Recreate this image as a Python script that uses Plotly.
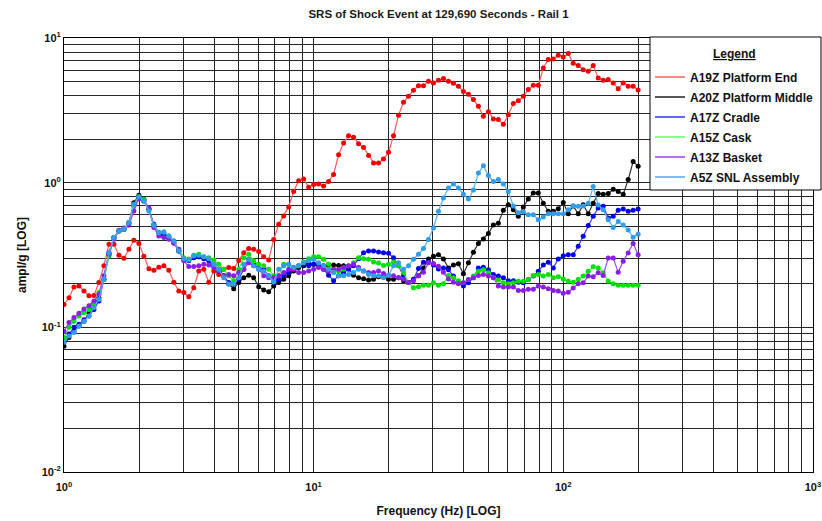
import plotly.graph_objects as go

# 1/50-decade analysis frequencies (Hz)
FREQ_HZ = [
    1.000, 1.047, 1.096, 1.148, 1.202, 1.259, 1.318, 1.380, 1.445, 1.514,
    1.585, 1.660, 1.738, 1.820, 1.905, 1.995, 2.089, 2.188, 2.291, 2.399,
    2.512, 2.630, 2.754, 2.884, 3.020, 3.162, 3.311, 3.467, 3.631, 3.802,
    3.981, 4.169, 4.365, 4.571, 4.786, 5.012, 5.248, 5.495, 5.754, 6.026,
    6.310, 6.607, 6.918, 7.244, 7.586, 7.943, 8.318, 8.710, 9.120, 9.550,
    10.00, 10.47, 10.96, 11.48, 12.02, 12.59, 13.18, 13.80, 14.45, 15.14,
    15.85, 16.60, 17.38, 18.20, 19.05, 19.95, 20.89, 21.88, 22.91, 23.99,
    25.12, 26.30, 27.54, 28.84, 30.20, 31.62, 33.11, 34.67, 36.31, 38.02,
    39.81, 41.69, 43.65, 45.71, 47.86, 50.12, 52.48, 54.95, 57.54, 60.26,
    63.10, 66.07, 69.18, 72.44, 75.86, 79.43, 83.18, 87.10, 91.20, 95.50,
    100.0, 104.7, 109.6, 114.8, 120.2, 125.9, 131.8, 138.0, 144.5, 151.4,
    158.5, 166.0, 173.8, 182.0, 190.5, 199.5,
]

A19Z_PLATFORM_END = [
    0.144, 0.16, 0.19, 0.193, 0.178, 0.165, 0.166, 0.204, 0.266, 0.375,
    0.375, 0.315, 0.30, 0.346, 0.40, 0.38, 0.31, 0.254, 0.248, 0.26,
    0.266, 0.248, 0.205, 0.178, 0.174, 0.163, 0.188, 0.245, 0.252, 0.205,
    0.245, 0.232, 0.252, 0.259, 0.255, 0.29, 0.328, 0.35, 0.346, 0.334,
    0.308, 0.292, 0.405, 0.515, 0.588, 0.68, 0.87, 1.03, 1.06, 0.93,
    0.97, 0.98, 0.95, 1.02, 1.14, 1.56, 1.88, 2.11, 2.06, 1.86,
    1.75, 1.54, 1.37, 1.37, 1.46, 1.62, 2.11, 2.93, 3.59, 3.95,
    4.35, 4.68, 4.68, 5.02, 4.89, 5.10, 5.24, 5.02, 4.86, 4.64,
    4.27, 4.08, 3.75, 3.37, 2.88, 3.09, 2.76, 2.73, 2.53, 2.95,
    3.52, 3.69, 3.95, 4.40, 4.71, 4.71, 6.2, 7.1, 7.15, 7.6,
    7.4, 7.8, 6.7, 6.45, 6.04, 5.9, 6.45, 5.3, 5.1, 5.16,
    4.89, 4.45, 4.89, 4.64, 4.64, 4.37,
]

A20Z_PLATFORM_MIDDLE = [
    0.074, 0.085, 0.094, 0.102, 0.11, 0.126, 0.144, 0.16, 0.215, 0.32,
    0.417, 0.463, 0.476, 0.529, 0.727, 0.818, 0.747, 0.654, 0.502, 0.451,
    0.428, 0.417, 0.385, 0.337, 0.296, 0.296, 0.308, 0.308, 0.303, 0.296,
    0.273, 0.252, 0.227, 0.199, 0.185, 0.204, 0.22, 0.229, 0.22, 0.191,
    0.181, 0.176, 0.193, 0.204, 0.215, 0.227, 0.245, 0.259, 0.266, 0.276,
    0.273, 0.273, 0.266, 0.268, 0.27, 0.268, 0.266, 0.255, 0.229, 0.22,
    0.217, 0.212, 0.215, 0.224, 0.224, 0.215, 0.215, 0.22, 0.21, 0.204,
    0.215, 0.227, 0.257, 0.297, 0.31, 0.318, 0.297, 0.257, 0.27, 0.275,
    0.235, 0.28, 0.33, 0.38, 0.408, 0.445, 0.51, 0.525, 0.645, 0.705,
    0.65, 0.585, 0.68, 0.77, 0.85, 0.85, 0.72, 0.635, 0.635, 0.66,
    0.73, 0.61, 0.69, 0.61, 0.705, 0.61, 0.72, 0.84, 0.83, 0.84,
    0.9, 0.87, 0.83, 1.05, 1.40, 1.30,
]

A17Z_CRADLE = [
    0.08, 0.09, 0.1, 0.105, 0.113, 0.12, 0.133, 0.152, 0.215, 0.328,
    0.417, 0.463, 0.476, 0.529, 0.69, 0.788, 0.767, 0.654, 0.515, 0.451,
    0.439, 0.417, 0.395, 0.337, 0.298, 0.288, 0.303, 0.308, 0.298, 0.288,
    0.266, 0.245, 0.227, 0.204, 0.199, 0.215, 0.252, 0.296, 0.273, 0.255,
    0.252, 0.227, 0.204, 0.215, 0.229, 0.239, 0.259, 0.266, 0.273, 0.266,
    0.273, 0.266, 0.252, 0.229, 0.21, 0.227, 0.239, 0.252, 0.266, 0.298,
    0.328, 0.337, 0.337, 0.332, 0.328, 0.325, 0.303, 0.266, 0.227, 0.204,
    0.215, 0.255, 0.282, 0.282, 0.27, 0.253, 0.257, 0.25, 0.226, 0.203,
    0.193, 0.203, 0.22, 0.257, 0.26, 0.25, 0.232, 0.226, 0.22, 0.21,
    0.21, 0.205, 0.203, 0.214, 0.226, 0.244, 0.27, 0.282, 0.257, 0.297,
    0.313, 0.318, 0.318, 0.363, 0.426, 0.505, 0.585, 0.668, 0.686, 0.57,
    0.585, 0.644, 0.658, 0.634, 0.644, 0.658,
]

A15Z_CASK = [
    0.085, 0.1, 0.11, 0.12, 0.126, 0.133, 0.148, 0.174, 0.215, 0.311,
    0.417, 0.463, 0.476, 0.529, 0.69, 0.80, 0.767, 0.654, 0.502, 0.451,
    0.456, 0.428, 0.395, 0.346, 0.303, 0.296, 0.315, 0.32, 0.308, 0.303,
    0.292, 0.273, 0.252, 0.227, 0.21, 0.252, 0.303, 0.32, 0.288, 0.273,
    0.266, 0.252, 0.227, 0.227, 0.273, 0.273, 0.255, 0.266, 0.283, 0.298,
    0.308, 0.308, 0.296, 0.273, 0.252, 0.245, 0.252, 0.266, 0.28, 0.303,
    0.298, 0.296, 0.283, 0.278, 0.268, 0.273, 0.283, 0.266, 0.239, 0.204,
    0.188, 0.191, 0.195, 0.195, 0.203, 0.195, 0.2, 0.228, 0.22, 0.21,
    0.203, 0.214, 0.226, 0.244, 0.25, 0.238, 0.22, 0.212, 0.203, 0.2,
    0.203, 0.208, 0.208, 0.214, 0.228, 0.232, 0.226, 0.232, 0.22, 0.224,
    0.216, 0.208, 0.205, 0.214, 0.226, 0.244, 0.262, 0.257, 0.238, 0.208,
    0.2, 0.195, 0.195, 0.195, 0.195, 0.195,
]

A13Z_BASKET = [
    0.094, 0.108, 0.117, 0.125, 0.134, 0.141, 0.152, 0.169, 0.227, 0.32,
    0.406, 0.468, 0.486, 0.507, 0.637, 0.775, 0.747, 0.672, 0.489, 0.428,
    0.417, 0.406, 0.381, 0.346, 0.288, 0.263, 0.263, 0.266, 0.273, 0.27,
    0.259, 0.245, 0.227, 0.232, 0.227, 0.239, 0.252, 0.28, 0.266, 0.252,
    0.227, 0.22, 0.22, 0.227, 0.239, 0.252, 0.252, 0.239, 0.239, 0.245,
    0.252, 0.259, 0.252, 0.245, 0.252, 0.252, 0.259, 0.266, 0.273, 0.259,
    0.245, 0.239, 0.239, 0.245, 0.236, 0.229, 0.227, 0.22, 0.215, 0.204,
    0.21, 0.227, 0.24, 0.279, 0.276, 0.264, 0.24, 0.216, 0.205, 0.2,
    0.203, 0.214, 0.22, 0.228, 0.232, 0.226, 0.22, 0.193, 0.19, 0.19,
    0.19, 0.18, 0.18, 0.183, 0.183, 0.193, 0.19, 0.185, 0.18, 0.178,
    0.172, 0.175, 0.187, 0.2, 0.203, 0.226, 0.224, 0.238, 0.228, 0.302,
    0.302, 0.24, 0.286, 0.327, 0.38, 0.318,
]

A5Z_SNL_ASSEMBLY = [
    0.079, 0.087, 0.092, 0.102, 0.11, 0.12, 0.137, 0.156, 0.215, 0.328,
    0.417, 0.463, 0.476, 0.529, 0.708, 0.80, 0.747, 0.637, 0.507, 0.451,
    0.456, 0.428, 0.395, 0.337, 0.298, 0.292, 0.311, 0.315, 0.308, 0.298,
    0.273, 0.252, 0.22, 0.199, 0.199, 0.22, 0.273, 0.296, 0.266, 0.252,
    0.245, 0.227, 0.206, 0.252, 0.266, 0.273, 0.259, 0.266, 0.28, 0.288,
    0.296, 0.28, 0.266, 0.252, 0.239, 0.227, 0.227, 0.232, 0.239, 0.252,
    0.245, 0.232, 0.227, 0.227, 0.22, 0.229, 0.266, 0.28, 0.252, 0.266,
    0.296, 0.32, 0.35, 0.404, 0.486, 0.634, 0.783, 0.92, 0.98, 0.92,
    0.83, 0.77, 0.89, 1.166, 1.31, 1.12, 1.02, 1.05, 0.98, 0.87,
    0.69, 0.62, 0.63, 0.6, 0.6, 0.555, 0.58, 0.61, 0.61, 0.61,
    0.61, 0.65, 0.69, 0.686, 0.69, 0.72, 0.94, 0.7, 0.65, 0.555,
    0.49, 0.54, 0.51, 0.47, 0.42, 0.44,
]

SERIES_NAMES = ["A19Z Platform End", "A20Z Platform Middle", "A17Z Cradle",
                "A15Z Cask", "A13Z Basket", "A5Z SNL Assembly"]
SERIES_VALUES = [A19Z_PLATFORM_END, A20Z_PLATFORM_MIDDLE, A17Z_CRADLE,
                 A15Z_CASK, A13Z_BASKET, A5Z_SNL_ASSEMBLY]
MARKER_COLORS = ["#f00000", "#000000", "#0000f0", "#00e000", "#8a1ee6", "#2f9cec"]
LINE_COLORS = ["#ff5a5a", "#303030", "#3838ff", "#50f050", "#9a48ee", "#5ab0f2"]
LEGEND_COLORS = ["#ff6060", "#202020", "#3030ff", "#60ff60", "#9a40ee", "#50a8f0"]

X_TICKS = [1, 10, 100, 1000]
X_TICKTEXT = ["10<sup>0</sup>", "10<sup>1</sup>", "10<sup>2</sup>", "10<sup>3</sup>"]
Y_TICKS = [0.01, 0.1, 1, 10]
Y_TICKTEXT = ["10<sup>-2</sup>", "10<sup>-1</sup>", "10<sup>0</sup>", "10<sup>1</sup>"]
X_MINOR = [m * d for d in (1, 10, 100) for m in range(2, 10)]
Y_MINOR = [m * d for d in (0.01, 0.1, 1) for m in range(2, 10)]

FONT = "Liberation Sans, Arial, sans-serif"
GRID = "#262626"

# pixel helpers for the legend frame (plot area: x 64..813, y 38..472)
def px_x(p):
    return (p - 64) / 749.0

def px_y(p):
    return (472 - p) / 434.0

fig = go.Figure()
for name, vals, mc, lc in zip(SERIES_NAMES, SERIES_VALUES, MARKER_COLORS, LINE_COLORS):
    fig.add_trace(go.Scatter(
        x=FREQ_HZ, y=vals, mode="lines+markers", name=name, showlegend=False,
        line=dict(color=lc, width=1.2),
        marker=dict(color=mc, size=5, line=dict(width=0)),
    ))
# legend entries (line samples only)
for i, (name, c) in enumerate(zip(SERIES_NAMES, LEGEND_COLORS)):
    fig.add_trace(go.Scatter(
        x=[None], y=[None], mode="lines", name=name, legendgroup=f"g{i}",
        line=dict(color=c, width=1.6), showlegend=True,
    ))

fig.add_shape(type="rect", xref="paper", yref="paper",
              x0=px_x(650), x1=px_x(821), y0=px_y(190), y1=px_y(37),
              fillcolor="white", line=dict(color="#000000", width=1),
              layer="above")
fig.add_annotation(text="<b><u>Legend</u></b>", xref="paper", yref="paper",
                   x=px_x(734), y=px_y(54), xanchor="center", yanchor="middle",
                   showarrow=False, font=dict(family=FONT, size=12, color="#111111"))

fig.update_layout(
    width=822, height=521,
    margin=dict(l=64, r=9, t=38, b=49, autoexpand=False),
    paper_bgcolor="white", plot_bgcolor="white",
    font=dict(family=FONT, size=12, color="#1a1a1a"),
    title=dict(text="<b>SRS of Shock Event at 129,690 Seconds - Rail 1</b>",
               x=0.5, xref="paper", xanchor="center",
               y=1 - 14 / 521, yanchor="middle",
               font=dict(family=FONT, size=11.5, color="#1a1a1a")),
    showlegend=True,
    legend=dict(
        x=px_x(650), y=px_y(62.5), xanchor="left", yanchor="top",
        bgcolor="rgba(0,0,0,0)", borderwidth=0,
        font=dict(family=FONT, size=12, color="#111111", weight="bold"),
        tracegroupgap=1,
        itemwidth=30,
    ),
    xaxis=dict(
        type="log", range=[0, 3.0004],
        tickmode="array", tickvals=X_TICKS, ticktext=X_TICKTEXT,
        tickfont=dict(family=FONT, size=11, color="#111111", weight="bold"),
        ticklabelstandoff=5,
        showgrid=True, gridcolor=GRID, gridwidth=1,
        minor=dict(tickmode="array", tickvals=X_MINOR, showgrid=True,
                   gridcolor=GRID, gridwidth=1, ticks=""),
        showline=True, linecolor="#000000", linewidth=1, mirror=True,
        ticks="", zeroline=False,
        title=dict(text="<b>Frequency (Hz) [LOG]</b>", standoff=14,
                   font=dict(family=FONT, size=12, color="#111111")),
        automargin=False,
    ),
    yaxis=dict(
        type="log", range=[-2, 1],
        tickmode="array", tickvals=Y_TICKS, ticktext=Y_TICKTEXT,
        tickfont=dict(family=FONT, size=11, color="#111111", weight="bold"),
        showgrid=True, gridcolor=GRID, gridwidth=1,
        minor=dict(tickmode="array", tickvals=Y_MINOR, showgrid=True,
                   gridcolor=GRID, gridwidth=1, ticks=""),
        showline=True, linecolor="#000000", linewidth=1, mirror=True,
        ticks="", zeroline=False,
        title=dict(text="<b>ampl/g [LOG]</b>", standoff=12,
                   font=dict(family=FONT, size=12, color="#111111")),
        automargin=False,
    ),
)

fig.write_html("out.html")
